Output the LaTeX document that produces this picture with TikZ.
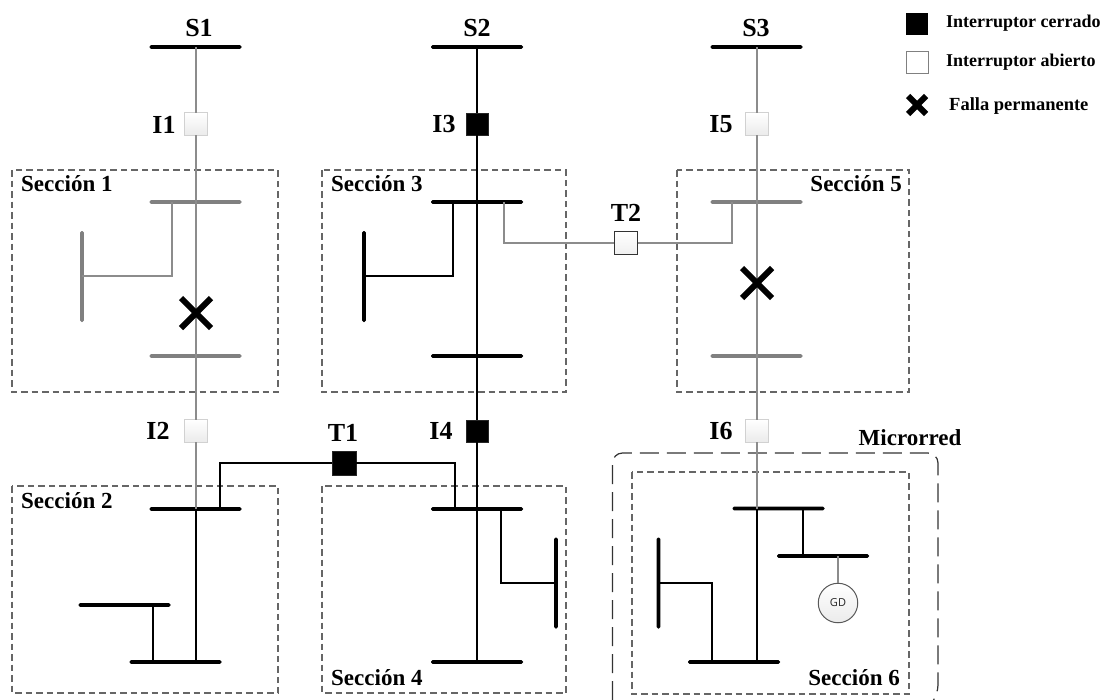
\documentclass[tikz,border=0pt]{standalone}
\usepackage{fontspec}
\setmainfont{Liberation Serif}
\newfontfamily\gdfont{Open Sans}
\usetikzlibrary{calc,shadings}
\colorlet{graybus}{black!50}
\colorlet{grayline}{black!45}
\tikzset{
  hbus/.style={draw=none,rectangle,rounded corners=1.5pt,minimum width=92pt,minimum height=3.8pt,inner sep=0pt,outer sep=0pt,fill=#1},
  hbus/.default=black,
  vbus/.style={draw=none,rectangle,rounded corners=1.5pt,minimum width=3.8pt,minimum height=91pt,inner sep=0pt,outer sep=0pt,fill=#1},
  vbus/.default=black,
  conn/.style={line width=1.9pt,black},
  gconn/.style={line width=1.9pt,grayline},
  closedsw/.style={rectangle,minimum size=22.5pt,inner sep=0pt,outer sep=0pt,fill=black,draw=black!85,line width=.5pt},
  opensw/.style={rectangle,minimum size=22.5pt,inner sep=0pt,outer sep=0pt,top color=white,bottom color=black!8,draw=black!18,line width=.9pt},
  tie/.style={rectangle,minimum size=23.5pt,inner sep=0pt,outer sep=0pt,top color=white,bottom color=black!6,draw=black!80,line width=1pt},
  section/.style={draw=black!60,line width=1.2pt,dash pattern=on 6.5pt off 4pt},
  microgrid/.style={draw=black!80,line width=1.2pt,dash pattern=on 19pt off 8pt,rounded corners=10pt},
  lab/.style={font=\bfseries\fontsize{26}{28}\selectfont,inner sep=0pt,text=black},
  seclab/.style={font=\bfseries\fontsize{23}{25}\selectfont,inner sep=0pt,anchor=west,text=black},
  leglab/.style={font=\bfseries\fontsize{18}{20}\selectfont,inner sep=0pt,anchor=west,text=black},
  fault/.style={line width=#1,black,line cap=butt},
  fault/.default=6pt
}
\begin{document}
\begin{tikzpicture}[x=1pt,y=-1pt]
\useasboundingbox (0,0) rectangle (1108,699);
% section frames
\draw[section] (12,170) rectangle (278,392);
\draw[section] (322,170) rectangle (566,392);
\draw[section] (677,170) rectangle (909,392);
\draw[section] (12,486) rectangle (278,693);
\draw[section] (322,486) rectangle (566,693);
\draw[section] (632,472) rectangle (909,694);
\draw[microgrid] (612.5,700) -- (612.5,453) -- (938,453) -- (938,695) -- (934,700);
% buses
\node[hbus] (s1) at (195.5,47) {};
\node[hbus] (s2) at (477,47) {};
\node[hbus] (s3) at (756.5,47) {};
\node[hbus=graybus] (b1a) at (195.5,202) {};
\node[hbus=graybus] (b1b) at (195.5,356) {};
\node[vbus=graybus] (b1c) at (82,276.5) {};
\node[hbus] (b3a) at (477,202) {};
\node[hbus] (b3b) at (477,356) {};
\node[vbus] (b3c) at (364,276.5) {};
\node[hbus=graybus] (b5a) at (756.5,202) {};
\node[hbus=graybus] (b5b) at (756.5,356) {};
\node[hbus] (b2a) at (195.5,509) {};
\node[hbus] (b2b) at (175.5,662) {};
\node[hbus] (b2c) at (124.5,605) {};
\node[hbus] (b4a) at (477,509) {};
\node[hbus] (b4b) at (477,662) {};
\node[vbus] (b4c) at (556,583) {};
\node[hbus] (b6a) at (778.5,508.5) {};
\node[hbus] (b6b) at (734,662) {};
\node[vbus] (b6c) at (658.5,583) {};
\node[hbus] (b6d) at (823,556) {};
% switches
\node[opensw] (i1) at (196,124) {};
\node[opensw] (i2) at (196,431) {};
\node[closedsw] (i3) at (477,124) {};
\node[closedsw] (i4) at (477,431) {};
\node[opensw] (i5) at (757,124) {};
\node[opensw] (i6) at (757,431) {};
\node[closedsw,minimum size=23.5pt] (t1) at (344,463) {};
\node[tie] (t2) at (626,243) {};
\node[circle,minimum size=39.5pt,inner sep=0pt,top color=white,bottom color=black!8,draw=black!65,line width=1pt,font=\gdfont\fontsize{11}{13}\selectfont,text=black!85] (gd) at (838,603) {GD};
% tap coordinates
\coordinate (t1a) at (172,202); \coordinate (t1b) at (172,276);
\coordinate (t1c) at (82,276);
\coordinate (t3a) at (453,202); \coordinate (t3b) at (453,276);
\coordinate (t3c) at (364,276);
\coordinate (t5a) at (504,202); \coordinate (t5b) at (504,243);
\coordinate (t5c) at (732,243); \coordinate (t5d) at (732,202);
\coordinate (t7a) at (220,509); \coordinate (t7b) at (220,463);
\coordinate (t7c) at (455,463); \coordinate (t7d) at (455,509);
\coordinate (t2l) at (153,605); \coordinate (t2r) at (153,662);
\coordinate (t4a) at (501,509); \coordinate (t4b) at (501,583);
\coordinate (t6a) at (712,662); \coordinate (t6b) at (712,583);
\coordinate (t6c) at (803,508.5); \coordinate (t6d) at (803,556);
\coordinate (t6e) at (838,556);
\coordinate (v1) at (196,509); \coordinate (v1b) at (196,662);
\coordinate (v6) at (757,508.5); \coordinate (v6b) at (757,662);
\coordinate (v2a) at (196,47); \coordinate (v2b) at (757,47);
% connectors
\draw[gconn] (v2a) -- (i1);
\draw[gconn] (i1) -- (i2);
\draw[gconn] (i2) -- (v1);
\draw[gconn] (t1a) -- (t1b) -- (t1c);
\draw[gconn] (v2b) -- (i5);
\draw[gconn] (i5) -- (i6);
\draw[gconn] (i6) -- (v6);
\draw[gconn] (t5a) -- (t5b) -- (t2);
\draw[gconn] (t2) -- (t5c) -- (t5d);
\draw[conn] (s2.center) -- (i3);
\draw[conn] (i3) -- (i4);
\draw[conn] (i4) -- (b4b.center);
\draw[conn] (t3a) -- (t3b) -- (t3c);
\draw[conn] (t7a) -- (t7b) -- (t1);
\draw[conn] (t1) -- (t7c) -- (t7d);
\draw[conn] (v1) -- (v1b);
\draw[conn] (t2l) -- (t2r);
\draw[conn] (t4a) -- (t4b) -- (b4c.center);
\draw[conn] (v6) -- (v6b);
\draw[conn] (t6a) -- (t6b) -- (b6c.center);
\draw[conn] (t6c) -- (t6d);
\draw[gconn,line width=1.4pt] (t6e) -- (gd);
% faults
\coordinate (f1) at (196,313);
\coordinate (f2) at (757,283);
\coordinate (f3) at (917,105);
\draw[fault] ($(f1)+(-15,-15)$) -- ($(f1)+(15,15)$);
\draw[fault] ($(f1)+(-15,15)$) -- ($(f1)+(15,-15)$);
\draw[fault] ($(f2)+(-15,-15)$) -- ($(f2)+(15,15)$);
\draw[fault] ($(f2)+(-15,15)$) -- ($(f2)+(15,-15)$);
\draw[fault] ($(f3)+(-9,-9)$) -- ($(f3)+(9,9)$);
\draw[fault] ($(f3)+(-9,9)$) -- ($(f3)+(9,-9)$);
% labels
\node[lab] (ls1) at (199,28) {S1};
\node[lab] (ls2) at (477,28) {S2};
\node[lab] (ls3) at (756,28) {S3};
\node[lab] (li1) at (164,125) {I1};
\node[lab] (li2) at (158,431) {I2};
\node[lab] (li3) at (444,124) {I3};
\node[lab] (li4) at (441,431) {I4};
\node[lab] (li5) at (721,124) {I5};
\node[lab] (li6) at (721,431) {I6};
\node[lab] (lt1) at (343,433) {T1};
\node[lab] (lt2) at (626,213) {T2};
\node[font=\bfseries\fontsize{23}{25}\selectfont,inner sep=0pt] (lm) at (910,438) {Microrred};
\node[seclab] (n1) at (21,184) {Sección 1};
\node[seclab] (n2) at (21,501) {Sección 2};
\node[seclab] (n3) at (331,184) {Sección 3};
\node[seclab] (n4) at (331,678) {Sección 4};
\node[seclab,anchor=east] (n5) at (902,184) {Sección 5};
\node[seclab,anchor=east] (n6) at (900,678) {Sección 6};
% legend
\node[rectangle,minimum size=22.5pt,inner sep=0pt,fill=black] (lg1) at (917,24) {};
\node[rectangle,minimum size=22pt,inner sep=0pt,fill=white,draw=black!50,line width=1pt] (lg2) at (917,62.5) {};
\node[leglab] (lt3) at (946,23) {Interruptor cerrado};
\node[leglab] (lt4) at (946,62) {Interruptor abierto};
\node[leglab,font=\bfseries\fontsize{18.5}{20}\selectfont] (lt5) at (949,106) {Falla permanente};
\end{tikzpicture}
\end{document}
